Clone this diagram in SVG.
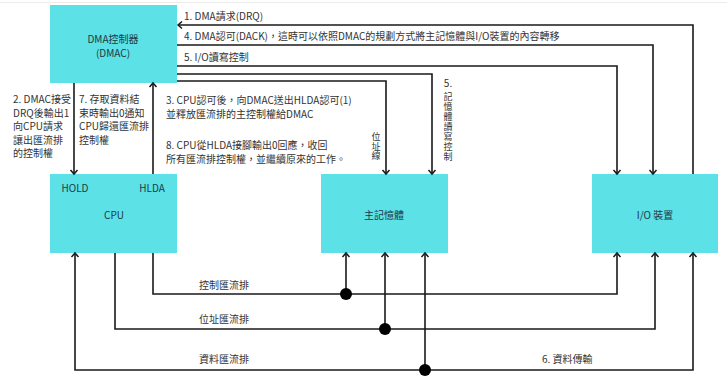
<svg xmlns="http://www.w3.org/2000/svg" width="727" height="385" viewBox="0 0 727 385">
<defs>
<style>
.box{fill:#5ce1e6;}
.bt{font-family:"Noto Sans CJK TC","Noto Sans",sans-serif;font-size:10px;fill:#1d3a45;}
.t{font-family:"Noto Sans CJK TC","Noto Sans",sans-serif;font-size:10px;fill:#333;}
.v{font-family:"Noto Sans CJK TC","Noto Sans",sans-serif;font-size:9px;fill:#333;writing-mode:vertical-rl;text-orientation:upright;}
.c{stroke:#1a1a1a;stroke-width:1.6;fill:none;}
.dot{fill:#000;}
</style>
<marker id="ah" markerUnits="userSpaceOnUse" markerWidth="12" markerHeight="12" viewBox="-6 -6 12 12" refX="0" refY="0" orient="auto-start-reverse">
<path d="M-4,-3.5 L0,0 L-4,3.5" fill="none" stroke="#1a1a1a" stroke-width="1.5"/>
</marker>
</defs>
<rect width="727" height="385" fill="#fff"/>
<line x1="0" y1="2.5" x2="727" y2="2.5" stroke="#ececec" stroke-width="1"/>

<g id="dmac">
<rect class="box" x="50" y="5" width="127" height="78"/>
<text class="bt" x="113" y="43" text-anchor="middle">DMA控制器</text>
<text class="bt" x="113" y="57" text-anchor="middle">(DMAC)</text>
</g>
<g id="cpu">
<rect class="box" x="50" y="174" width="127" height="79"/>
<text class="bt" x="75" y="192" text-anchor="middle">HOLD</text>
<text class="bt" x="152" y="192" text-anchor="middle">HLDA</text>
<text class="bt" x="114" y="219" text-anchor="middle">CPU</text>
</g>
<g id="memory">
<rect class="box" x="321" y="174" width="127" height="79"/>
<text class="bt" x="384" y="219" text-anchor="middle">主記憶體</text>
</g>
<g id="io">
<rect class="box" x="592" y="174" width="126" height="79"/>
<text class="bt" x="655" y="219" text-anchor="middle">I/O 裝置</text>
</g>

<g id="connectors">
<path class="c" d="M693,174 V25 H178" marker-end="url(#ah)"/>
<path class="c" d="M177,45 H653 V174" marker-end="url(#ah)"/>
<path class="c" d="M177,66 H617 V174" marker-end="url(#ah)"/>
<path class="c" d="M177,74 H432 V174" marker-end="url(#ah)"/>
<path class="c" d="M177,81 H386 V174" marker-end="url(#ah)"/>
<path class="c" d="M74,83 V174" marker-end="url(#ah)"/>
<path class="c" d="M153,174 V83" marker-end="url(#ah)"/>
<path class="c" d="M153,253 V294 H617 V253" marker-end="url(#ah)"/>
<path class="c" d="M346,294 V253" marker-end="url(#ah)"/>
<circle class="dot" cx="346" cy="294" r="6"/>
<path class="c" d="M115,253 V329 H655 V253" marker-end="url(#ah)"/>
<path class="c" d="M385,329 V253" marker-end="url(#ah)"/>
<circle class="dot" cx="385" cy="329" r="6"/>
<path class="c" d="M75,253 V370 H693 V253" marker-start="url(#ah)" marker-end="url(#ah)"/>
<path class="c" d="M425,370 V253" marker-end="url(#ah)"/>
<circle class="dot" cx="425" cy="370" r="6"/>
</g>

<g id="labels">
<text class="t" x="184" y="20">1. DMA請求(DRQ)</text>
<text class="t" x="184" y="40">4. DMA認可(DACK)，這時可以依照DMAC的規劃方式將主記憶體與I/O裝置的內容轉移</text>
<text class="t" x="184" y="61">5. I/O讀寫控制</text>
<text class="t" x="13" y="103">2. DMAC接受</text>
<text class="t" x="13" y="116.5">DRQ後輸出1</text>
<text class="t" x="13" y="130">向CPU請求</text>
<text class="t" x="13" y="143.5">讓出匯流排</text>
<text class="t" x="13" y="157">的控制權</text>
<text class="t" x="79" y="103">7. 存取資料結</text>
<text class="t" x="79" y="116.5">束時輸出0通知</text>
<text class="t" x="79" y="130">CPU歸還匯流排</text>
<text class="t" x="79" y="143.5">控制權</text>
<text class="t" x="166" y="104">3. CPU認可後，向DMAC送出HLDA認可(1)</text>
<text class="t" x="166" y="118">並釋放匯流排的主控制權給DMAC</text>
<text class="t" x="166" y="149">8. CPU從HLDA接腳輸出0回應，收回</text>
<text class="t" x="166" y="163">所有匯流排控制權，並繼續原來的工作。</text>
<text class="v" x="376" y="132.5" letter-spacing="0.5">位址線</text>
<text class="t" x="448" y="87" text-anchor="middle" font-size="9">5.</text>
<text class="v" x="448" y="92.5" letter-spacing="1">記憶體讀寫控制</text>
<text class="t" x="199" y="289">控制匯流排</text>
<text class="t" x="199" y="323">位址匯流排</text>
<text class="t" x="199" y="363">資料匯流排</text>
<text class="t" x="542" y="363">6. 資料傳輸</text>
</g>
</svg>
